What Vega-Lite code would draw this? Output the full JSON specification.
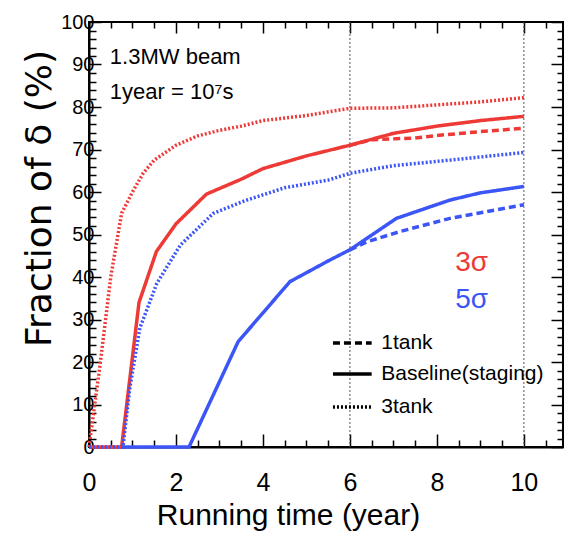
{
  "$schema": "https://vega.github.io/schema/vega-lite/v6.json",
  "width": 474,
  "height": 425,
  "autosize": {"type": "none"},
  "padding": {"left": 89, "top": 22, "right": 3, "bottom": 99},
  "background": "white",
  "config": {
    "view": {"stroke": "black", "strokeWidth": 2},
    "font": "Liberation Sans"
  },
  "datasets": {
    "curves": [
      {"t": 0, "f": 0, "sig": "3σ", "cfg": "3tank"},
      {"t": 0.25, "f": 19, "sig": "3σ", "cfg": "3tank"},
      {"t": 0.5, "f": 40, "sig": "3σ", "cfg": "3tank"},
      {"t": 0.75, "f": 55, "sig": "3σ", "cfg": "3tank"},
      {"t": 1, "f": 60, "sig": "3σ", "cfg": "3tank"},
      {"t": 1.25, "f": 64.5, "sig": "3σ", "cfg": "3tank"},
      {"t": 1.5, "f": 67.5, "sig": "3σ", "cfg": "3tank"},
      {"t": 2, "f": 71, "sig": "3σ", "cfg": "3tank"},
      {"t": 2.5, "f": 73.2, "sig": "3σ", "cfg": "3tank"},
      {"t": 3, "f": 74.5, "sig": "3σ", "cfg": "3tank"},
      {"t": 3.5, "f": 75.5, "sig": "3σ", "cfg": "3tank"},
      {"t": 4, "f": 76.8, "sig": "3σ", "cfg": "3tank"},
      {"t": 5, "f": 78, "sig": "3σ", "cfg": "3tank"},
      {"t": 6, "f": 79.7, "sig": "3σ", "cfg": "3tank"},
      {"t": 7, "f": 79.8, "sig": "3σ", "cfg": "3tank"},
      {"t": 8, "f": 80.5, "sig": "3σ", "cfg": "3tank"},
      {"t": 9, "f": 81.2, "sig": "3σ", "cfg": "3tank"},
      {"t": 10, "f": 82.2, "sig": "3σ", "cfg": "3tank"},

      {"t": 0, "f": 0, "sig": "3σ", "cfg": "Baseline"},
      {"t": 0.75, "f": 0, "sig": "3σ", "cfg": "Baseline"},
      {"t": 1.15, "f": 34, "sig": "3σ", "cfg": "Baseline"},
      {"t": 1.55, "f": 46, "sig": "3σ", "cfg": "Baseline"},
      {"t": 2, "f": 52.5, "sig": "3σ", "cfg": "Baseline"},
      {"t": 2.7, "f": 59.5, "sig": "3σ", "cfg": "Baseline"},
      {"t": 3.5, "f": 63, "sig": "3σ", "cfg": "Baseline"},
      {"t": 4, "f": 65.5, "sig": "3σ", "cfg": "Baseline"},
      {"t": 5, "f": 68.5, "sig": "3σ", "cfg": "Baseline"},
      {"t": 6, "f": 71, "sig": "3σ", "cfg": "Baseline"},
      {"t": 7, "f": 73.8, "sig": "3σ", "cfg": "Baseline"},
      {"t": 8, "f": 75.5, "sig": "3σ", "cfg": "Baseline"},
      {"t": 9, "f": 76.8, "sig": "3σ", "cfg": "Baseline"},
      {"t": 10, "f": 77.8, "sig": "3σ", "cfg": "Baseline"},

      {"t": 6, "f": 71, "sig": "3σ", "cfg": "1tank"},
      {"t": 6.5, "f": 72.3, "sig": "3σ", "cfg": "1tank"},
      {"t": 7, "f": 72.5, "sig": "3σ", "cfg": "1tank"},
      {"t": 7.5, "f": 72.7, "sig": "3σ", "cfg": "1tank"},
      {"t": 8, "f": 73.3, "sig": "3σ", "cfg": "1tank"},
      {"t": 9, "f": 74.2, "sig": "3σ", "cfg": "1tank"},
      {"t": 10, "f": 75, "sig": "3σ", "cfg": "1tank"},

      {"t": 0, "f": 0, "sig": "5σ", "cfg": "3tank"},
      {"t": 0.78, "f": 0, "sig": "5σ", "cfg": "3tank"},
      {"t": 0.94, "f": 14, "sig": "5σ", "cfg": "3tank"},
      {"t": 1.17, "f": 28, "sig": "5σ", "cfg": "3tank"},
      {"t": 1.56, "f": 38.5, "sig": "5σ", "cfg": "3tank"},
      {"t": 2.1, "f": 47.5, "sig": "5σ", "cfg": "3tank"},
      {"t": 2.86, "f": 55, "sig": "5σ", "cfg": "3tank"},
      {"t": 3.6, "f": 58, "sig": "5σ", "cfg": "3tank"},
      {"t": 4.5, "f": 61, "sig": "5σ", "cfg": "3tank"},
      {"t": 5.5, "f": 62.8, "sig": "5σ", "cfg": "3tank"},
      {"t": 6, "f": 64.4, "sig": "5σ", "cfg": "3tank"},
      {"t": 7, "f": 66.2, "sig": "5σ", "cfg": "3tank"},
      {"t": 8.3, "f": 67.5, "sig": "5σ", "cfg": "3tank"},
      {"t": 10, "f": 69.3, "sig": "5σ", "cfg": "3tank"},

      {"t": 0.75, "f": 0, "sig": "5σ", "cfg": "Baseline"},
      {"t": 2.3, "f": 0, "sig": "5σ", "cfg": "Baseline"},
      {"t": 3.43, "f": 24.8, "sig": "5σ", "cfg": "Baseline"},
      {"t": 4.62, "f": 38.9, "sig": "5σ", "cfg": "Baseline"},
      {"t": 5.54, "f": 44, "sig": "5σ", "cfg": "Baseline"},
      {"t": 6, "f": 46.4, "sig": "5σ", "cfg": "Baseline"},
      {"t": 7.07, "f": 53.8, "sig": "5σ", "cfg": "Baseline"},
      {"t": 8.3, "f": 58.1, "sig": "5σ", "cfg": "Baseline"},
      {"t": 9, "f": 59.8, "sig": "5σ", "cfg": "Baseline"},
      {"t": 10, "f": 61.3, "sig": "5σ", "cfg": "Baseline"},

      {"t": 6, "f": 46.4, "sig": "5σ", "cfg": "1tank"},
      {"t": 6.4, "f": 48.3, "sig": "5σ", "cfg": "1tank"},
      {"t": 7.15, "f": 50.7, "sig": "5σ", "cfg": "1tank"},
      {"t": 8.3, "f": 53.8, "sig": "5σ", "cfg": "1tank"},
      {"t": 10, "f": 57, "sig": "5σ", "cfg": "1tank"}
    ],
    "grid": [{"t": 6}, {"t": 10}],
    "legend": [
      {"x1": 5.61, "x2": 6.5, "tx": 6.72, "y": 24.5, "cfg": "1tank", "label": "1tank"},
      {"x1": 5.61, "x2": 6.5, "tx": 6.72, "y": 17.2, "cfg": "Baseline", "label": "Baseline(staging)"},
      {"x1": 5.61, "x2": 6.5, "tx": 6.72, "y": 9.4, "cfg": "3tank", "label": "3tank"}
    ],
    "notes": [
      {"x": 0.48, "y": 91.8, "label": "1.3MW beam"},
      {"x": 0.48, "y": 83.6, "label": "1year = 10⁷s"}
    ],
    "sigmas": [
      {"x": 8.8, "y": 43.3, "sig": "3σ"},
      {"x": 8.8, "y": 34.6, "sig": "5σ"}
    ]
  },
  "layer": [
    {
      "data": {"name": "grid"},
      "mark": {"type": "rule", "color": "#555555", "strokeWidth": 1, "strokeDash": [2, 2]},
      "encoding": {
        "x": {
          "field": "t", "type": "quantitative",
          "scale": {"domain": [0, 10.9], "nice": false, "zero": false},
          "axis": {
            "orient": "top", "title": null, "labels": false, "grid": false, "domain": false,
            "values": [0, 0.5, 1, 1.5, 2, 2.5, 3, 3.5, 4, 4.5, 5, 5.5, 6, 6.5, 7, 7.5, 8, 8.5, 9, 9.5, 10, 10.5],
            "tickColor": "black", "tickWidth": 1.5,
            "tickSize": {"condition": {"test": "datum.value % 2 === 0", "value": -11}, "value": -6}
          }
        }
      }
    },
    {
      "data": {"name": "curves"},
      "mark": {"type": "line", "strokeCap": "butt"},
      "encoding": {
        "x": {
          "field": "t", "type": "quantitative",
          "axis": {
            "orient": "bottom", "title": "Running time (year)", "grid": false,
            "values": [0, 0.5, 1, 1.5, 2, 2.5, 3, 3.5, 4, 4.5, 5, 5.5, 6, 6.5, 7, 7.5, 8, 8.5, 9, 9.5, 10, 10.5],
            "labelExpr": "datum.value % 2 === 0 ? toString(datum.value) : ''",
            "labelFlush": false,
            "domainColor": "black", "domainWidth": 2,
            "tickColor": "black", "tickWidth": 1.5,
            "tickSize": {"condition": {"test": "datum.value % 2 === 0", "value": -13}, "value": -7},
            "labelFont": "Liberation Sans", "labelFontSize": 25, "labelColor": "black",
            "labelPadding": 36, "labelBaseline": "top",
            "titleFont": "Liberation Sans", "titleFontSize": 30, "titleFontWeight": "normal",
            "titleColor": "black", "titleX": 199, "titleY": 77, "titleAlign": "center", "titleBaseline": "alphabetic"
          }
        },
        "y": {
          "field": "f", "type": "quantitative",
          "scale": {"domain": [0, 100], "nice": false},
          "axis": {
            "orient": "left", "title": "Fraction of δ (%)", "grid": false,
            "values": [0, 2, 4, 6, 8, 10, 12, 14, 16, 18, 20, 22, 24, 26, 28, 30, 32, 34, 36, 38, 40, 42, 44, 46, 48, 50, 52, 54, 56, 58, 60, 62, 64, 66, 68, 70, 72, 74, 76, 78, 80, 82, 84, 86, 88, 90, 92, 94, 96, 98, 100],
            "labelExpr": "datum.value % 10 === 0 ? datum.label : ''",
            "labelFlush": false,
            "domainColor": "black", "domainWidth": 2,
            "tickColor": "black", "tickWidth": 1.5,
            "tickSize": {"condition": {"test": "datum.value % 10 === 0", "value": -12}, "value": -7},
            "labelFont": "Liberation Sans", "labelFontSize": 20, "labelColor": "black",
            "labelPadding": 7,
            "titleFont": "DejaVu Sans", "titleFontSize": 36, "titleFontWeight": "normal",
            "titleColor": "black", "titleAngle": -90, "titleX": -39, "titleY": 176,
            "titleAlign": "center", "titleBaseline": "alphabetic"
          }
        },
        "color": {
          "field": "sig", "type": "nominal",
          "scale": {"domain": ["3σ", "5σ"], "range": ["#ee3a36", "#3b55f6"]},
          "legend": null
        },
        "strokeDash": {
          "field": "cfg", "type": "nominal",
          "scale": {"domain": ["1tank", "Baseline", "3tank"], "range": [[7, 4], [1, 0], [2, 2]]},
          "legend": null
        },
        "strokeWidth": {
          "field": "cfg", "type": "nominal",
          "scale": {"domain": ["1tank", "Baseline", "3tank"], "range": [3.5, 3.5, 2.5]},
          "legend": null
        },
        "detail": {"field": "cfg"}
      }
    },
    {
      "data": {"name": "legend"},
      "mark": {"type": "rule", "color": "black"},
      "encoding": {
        "x": {"field": "x1", "type": "quantitative", "axis": null},
        "x2": {"field": "x2"},
        "y": {
          "field": "y", "type": "quantitative",
          "axis": {
            "orient": "right", "title": null, "labels": false, "grid": false, "domain": false,
            "values": [0, 2, 4, 6, 8, 10, 12, 14, 16, 18, 20, 22, 24, 26, 28, 30, 32, 34, 36, 38, 40, 42, 44, 46, 48, 50, 52, 54, 56, 58, 60, 62, 64, 66, 68, 70, 72, 74, 76, 78, 80, 82, 84, 86, 88, 90, 92, 94, 96, 98, 100],
            "tickColor": "black", "tickWidth": 1.5,
            "tickSize": {"condition": {"test": "datum.value % 10 === 0", "value": -12}, "value": -6}
          }
        },
        "strokeDash": {"field": "cfg", "type": "nominal", "legend": null},
        "strokeWidth": {"field": "cfg", "type": "nominal", "legend": null}
      }
    },
    {
      "data": {"name": "legend"},
      "mark": {"type": "text", "align": "left", "baseline": "middle", "font": "Liberation Sans", "fontSize": 21, "color": "black"},
      "encoding": {
        "x": {"field": "tx", "type": "quantitative", "axis": null},
        "y": {"field": "y", "type": "quantitative", "axis": null},
        "text": {"field": "label"}
      }
    },
    {
      "data": {"name": "notes"},
      "mark": {"type": "text", "align": "left", "baseline": "middle", "font": "Liberation Sans", "fontSize": 22, "color": "black"},
      "encoding": {
        "x": {"field": "x", "type": "quantitative", "axis": null},
        "y": {"field": "y", "type": "quantitative", "axis": null},
        "text": {"field": "label"}
      }
    },
    {
      "data": {"name": "sigmas"},
      "mark": {"type": "text", "align": "center", "baseline": "middle", "font": "Liberation Sans", "fontSize": 28},
      "encoding": {
        "x": {"field": "x", "type": "quantitative", "axis": null},
        "y": {"field": "y", "type": "quantitative", "axis": null},
        "text": {"field": "sig"},
        "color": {"field": "sig", "type": "nominal", "legend": null}
      }
    }
  ],
  "resolve": {"axis": {"x": "independent", "y": "independent"}}
}
